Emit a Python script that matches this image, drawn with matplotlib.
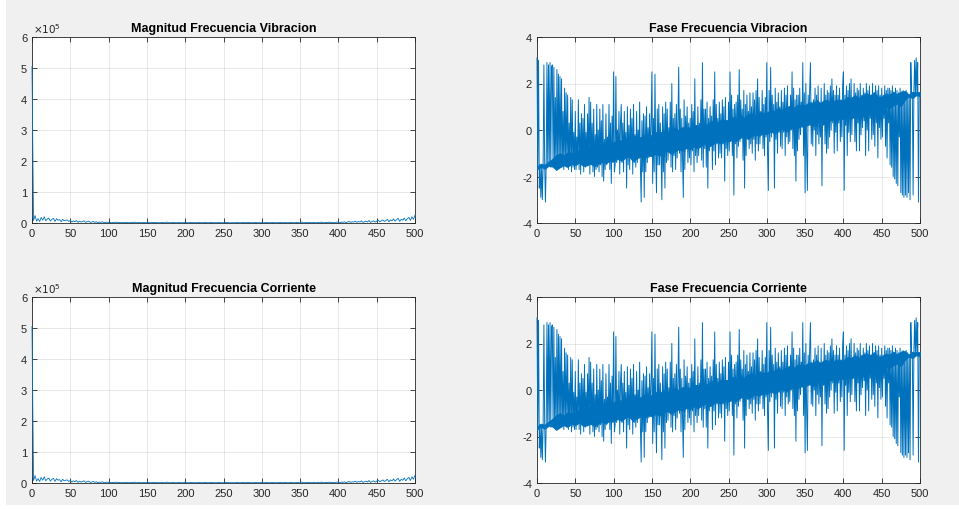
import numpy as np
import matplotlib
matplotlib.use('Agg')
import matplotlib.pyplot as plt
from matplotlib.patches import Rectangle

plt.rcParams['font.family'] = ['Liberation Sans', 'DejaVu Sans']
plt.rcParams['axes.unicode_minus'] = False

# ---------------- data ----------------
titles = ['Magnitud Frecuencia Vibracion', 'Fase Frecuencia Vibracion',
          'Magnitud Frecuencia Corriente', 'Fase Frecuencia Corriente']

xticks = [0, 50, 100, 150, 200, 250, 300, 350, 400, 450, 500]
mag_yticks = [0, 1e5, 2e5, 3e5, 4e5, 5e5, 6e5]
mag_yticklabels = ['0', '1', '2', '3', '4', '5', '6']
phase_yticks = [-4, -2, 0, 2, 4]

# magnitude, sampled every 2 Hz, in thousands
freq_mag = np.arange(0, 501, 2)
mag_vib_k = [505,
    8, 24, 6, 14, 5, 18, 9, 20, 7, 13, 16, 6, 12, 15, 5, 14, 9, 11, 4, 12, 7, 9, 10, 5, 8,
    3, 7, 4, 8, 2, 6, 3, 5, 7, 2, 4, 6, 2, 3, 5, 2, 4, 1, 3, 2, 4, 1, 2, 3, 1,
    2, 1, 2, 1, 3, 1, 2, 1, 1, 2,
    1, 2, 1, 1, 2, 1, 3, 1, 1, 2,
    1, 1, 2, 1, 1, 2, 1, 1, 2, 1,
    2, 1, 1, 1, 2, 1, 1, 3, 1, 1,
    1, 2, 1, 1, 1, 2, 1, 1, 1, 2,
    1, 1, 1, 2, 1, 1, 1, 1, 2, 1,
    1, 1, 2, 1, 1, 1, 2, 1, 1, 1,
    1, 2, 1, 1, 1, 1, 2, 1, 1, 1,
    1, 1, 1, 2, 1, 1, 1, 2, 1, 1,
    2, 1, 1, 1, 1, 2, 1, 1, 1, 2,
    1, 1, 2, 1, 1, 1, 2, 1, 1, 1,
    1, 2, 1, 1, 2, 1, 1, 1, 2, 1,
    1, 1, 2, 1, 1, 3, 1, 1, 2, 1,
    2, 1, 1, 2, 1, 1, 2, 1, 3, 1,
    1, 2, 1, 3, 1, 2, 1, 1, 3, 2,
    1, 3, 2, 4, 1, 3, 5, 2, 4, 3, 6, 2, 5, 3, 7, 2, 4, 6, 3, 8, 2, 5, 7, 3, 6,
    9, 4, 7, 10, 5, 8, 12, 4, 10, 7, 13, 6, 11, 15, 5, 12, 9, 16, 7, 14, 18, 8, 20, 12, 25]
mag_cor_k = list(mag_vib_k)

# phase, sampled every 1 Hz, in tenths of a radian
freq_phase = np.arange(0, 501, 1)
phase_vib_tenths = [
    31, -16, 30, -25, -15, -29, -16, -30, -15, 28,
    -14, -31, -15, 29, -16, 28, -15, 29, -16, 27,
    28, -16, 27, -15, 14, -17, 26, -16, 24, -15,
    23, -16, 22, -15, 8, -17, 18, -15, 16, -16,
    15, -17, 3, -15, 14, -18, 13, -16, -1, -17,
    8, -17, -3, -15, 13, -17, 3, -19, 7, -15,
    5, -18, 11, -16, -1, -15, 7, -14, 14, -19,
    12, -15, 3, -18, 9, -20, -2, -17, 11, -16,
    0, -18, 9, -15, 4, -20, 11, -22, -4, -17,
    7, -15, -3, -13, 11, -17, 3, -23, 6, -14,
    25, -18, -15, 23, -14, 0, -12, 8, -19, 3,
    11, -14, 3, -18, 8, -12, -1, -25, 10, -15,
    2, -17, 9, -12, 5, -19, 11, -14, -2, -16,
    8, -14, 0, -11, 12, -16, -31, 4, -18, 7,
    -29, 6, -18, 10, -14, 1, -12, 7, -11, 3,
    25, -23, 5, -18, 24, -10, -27, 9, -15, 11,
    -15, 3, -10, -30, 10, -18, 7, -25, 12, -14,
    9, -13, 1, -9, 12, -16, 20, -18, 5, -11,
    7, -17, 11, -12, 3, 27, -10, 9, -18, 5,
    -11, -29, 13, -17, 6, -8, 10, -14, 3, -12,
    5, -15, 11, -9, 8, -18, 22, -11, 2, -14,
    10, -11, 3, -7, 13, -13, 29, -16, 9, -8,
    9, -16, 12, -25, 5, -9, 10, -7, 6, -17,
    13, -9, 25, -15, 11, -6, 5, -12, 12, -10,
    7, -12, 13, -6, 10, -22, 14, -8, 4, -11,
    12, -9, 25, -5, 15, -11, 9, -28, 11, -6,
    12, -12, 15, -7, 26, -5, 13, -3, 9, -13,
    17, -25, 11, -11, 15, -2, 8, -8, 16, -6,
    10, -10, 16, -4, 13, -13, 17, -6, 22, -9,
    14, -6, 8, -2, 17, -8, 11, -11, 14, -3,
    29, -10, -26, 17, -5, 27, -3, 15, -1, 11,
    -25, 18, -4, 12, -10, 16, -1, 10, -7, 17,
    -8, 12, -1, 18, -11, 15, -3, 19, -6, 9,
    -5, 15, 0, 25, -8, 18, -11, 13, -22, 15,
    -9, 15, -4, 18, -2, 12, 1, 29, -11, 16,
    -27, 20, -9, -26, 15, 2, 18, 29, -6, 12,
    -7, 13, 0, 18, -11, 15, -2, 19, -6, 11,
    -3, 18, -24, 12, 2, 20, -6, 15, -10, 17,
    -8, 16, -3, 19, 0, 22, 3, 17, -10, 15,
    -1, 19, -9, 15, 3, 18, -5, 13, -3, 19,
    25, -26, 15, 2, 19, -11, 17, -1, 20, -5,
    22, -2, 14, 5, 20, -5, 16, -9, 18, 3,
    17, -9, 20, -2, 15, 1, 18, 4, 16, -11,
    20, 0, 17, -9, 19, 5, 15, -4, 20, -2,
    16, -7, 19, 3, 17, -12, 19, 1, 15, -4,
    18, -3, 15, 5, 19, -7, 17, -12, 18, 3,
    18, -15, 17, -16, 19, -20, 16, -21, 18, -23,
    17, -24, 16, -3, 18, -27, 15, -28, 17, -29,
    16, -28, 17, -29, 16, -27, 15, -30, 29, 16,
    15, -28, 16, 30, 15, 31, 16, 29, -31, 16,
    16]
phase_cor_tenths = list(phase_vib_tenths)

# darkest (solid) part of the stroke bundle, read every 5 Hz, radians
core_freq = np.arange(0, 501, 5)
core_low = [
    -1.70, -1.59, -1.67, -1.55, -1.57, -1.72, -1.61, -1.52, -1.59, -1.47,
    -1.51, -1.40, -1.55, -1.53, -1.45, -1.57, -1.46, -1.37, -1.44, -1.32,
    -1.36, -1.25, -1.33, -1.21, -1.13, -1.35, -1.24, -1.15, -1.22, -1.10,
    -1.14, -1.03, -1.11, -0.99, -0.91, -1.03, -0.92, -0.83, -0.90, -0.78,
    -0.82, -0.71, -0.79, -0.67, -0.59, -0.71, -0.60, -0.51, -0.58, -0.46,
    -0.50, -0.39, -0.47, -0.35, -0.27, -0.39, -0.28, -0.19, -0.26, -0.14,
    -0.18, -0.07, -0.15, -0.03, 0.05, -0.07, 0.04, 0.13, 0.06, 0.18,
    0.14, 0.25, 0.17, 0.29, 0.37, 0.25, 0.36, 0.45, 0.38, 0.50,
    0.46, 0.57, 0.49, 0.61, 0.69, 0.57, 0.68, 0.77, 0.70, 0.94,
    0.90, 1.01, 0.93, 1.05, 1.12, 1.01, 1.27, 1.44, 1.37, 1.49,
    1.45]
core_high = [
    -1.57, -1.44, -1.49, -1.35, -1.24, -1.07, -0.99, -1.07, -0.95, -0.97,
    -0.97, -0.84, -0.82, -0.63, -0.75, -0.63, -0.55, -0.64, -0.51, -0.53,
    -0.53, -0.40, -0.45, -0.31, -0.43, -0.31, -0.23, -0.32, -0.19, -0.21,
    -0.21, -0.08, -0.13, 0.01, -0.11, 0.01, 0.09, 0.00, 0.13, 0.11,
    0.11, 0.24, 0.19, 0.33, 0.21, 0.33, 0.41, 0.32, 0.45, 0.43,
    0.43, 0.56, 0.51, 0.65, 0.53, 0.65, 0.73, 0.64, 0.77, 0.75,
    0.75, 0.88, 0.83, 0.97, 0.85, 0.97, 1.05, 0.96, 1.09, 1.07,
    1.07, 1.20, 1.15, 1.29, 1.17, 1.29, 1.27, 1.18, 1.31, 1.29,
    1.29, 1.42, 1.37, 1.51, 1.39, 1.51, 1.59, 1.50, 1.63, 1.44,
    1.44, 1.57, 1.52, 1.66, 1.54, 1.66, 1.69, 1.53, 1.65, 1.63,
    1.63]

# ---------------- styling ----------------
LINE = '#0072BD'
AXC = '#262626'
W, H = 959, 510

fig = plt.figure(figsize=(W / 100, H / 100), dpi=100, facecolor='white')
fig.patches.append(Rectangle((6 / W, 4 / H), 1 - 6 / W, 1 - 4 / H,
                             transform=fig.transFigure, facecolor='#f0f0f0',
                             edgecolor='none', zorder=-10))

def px_axes(x0, y0, x1, y1):
    return fig.add_axes([x0 / W, 1 - y1 / H, (x1 - x0) / W, (y1 - y0) / H])

axes = [px_axes(32, 38, 415, 224), px_axes(537, 38, 920, 224),
        px_axes(32, 298, 415, 484), px_axes(537, 298, 920, 484)]

def style(ax, title):
    ax.set_facecolor('white')
    for s in ax.spines.values():
        s.set_color(AXC)
        s.set_linewidth(0.6)
    ax.tick_params(direction='in', top=True, right=True, length=3.5, width=0.6,
                   color=AXC, labelcolor=AXC, labelsize=8, pad=3.5)
    ax.grid(True, color=AXC, alpha=0.15, linewidth=0.5)
    ax.set_axisbelow(True)
    ax.set_xlim(0, 500)
    ax.set_xticks(xticks)
    ax.set_title(title, fontsize=9, fontweight='bold', color='black', pad=4)

mags = [np.array(mag_vib_k) * 1e3, np.array(mag_cor_k) * 1e3]
phases = [np.array(phase_vib_tenths) / 10.0, np.array(phase_cor_tenths) / 10.0]

for i, (axm, axp) in enumerate([(axes[0], axes[1]), (axes[2], axes[3])]):
    style(axm, titles[2 * i])
    axm.plot(freq_mag, mags[i], color=LINE, linewidth=0.6, zorder=3, clip_on=False)
    axm.set_ylim(0, 6e5)
    axm.set_yticks(mag_yticks)
    axm.set_yticklabels(mag_yticklabels)
    axm.annotate(r'$\times 10^{5}$', xy=(0, 1), xycoords='axes fraction',
                 xytext=(0.5, 1.5), textcoords='offset points', ha='left',
                 va='bottom', fontsize=7.5, color=AXC)

    style(axp, titles[2 * i + 1])
    axp.fill_between(core_freq, core_low, core_high, color=LINE, linewidth=0.5,
                     edgecolor=LINE, zorder=2.9)
    axp.plot(freq_phase, phases[i], color=LINE, linewidth=0.7, zorder=3, clip_on=False)
    axp.set_ylim(-4, 4)
    axp.set_yticks(phase_yticks)

fig.savefig('out.png', dpi=100, facecolor=fig.get_facecolor())
